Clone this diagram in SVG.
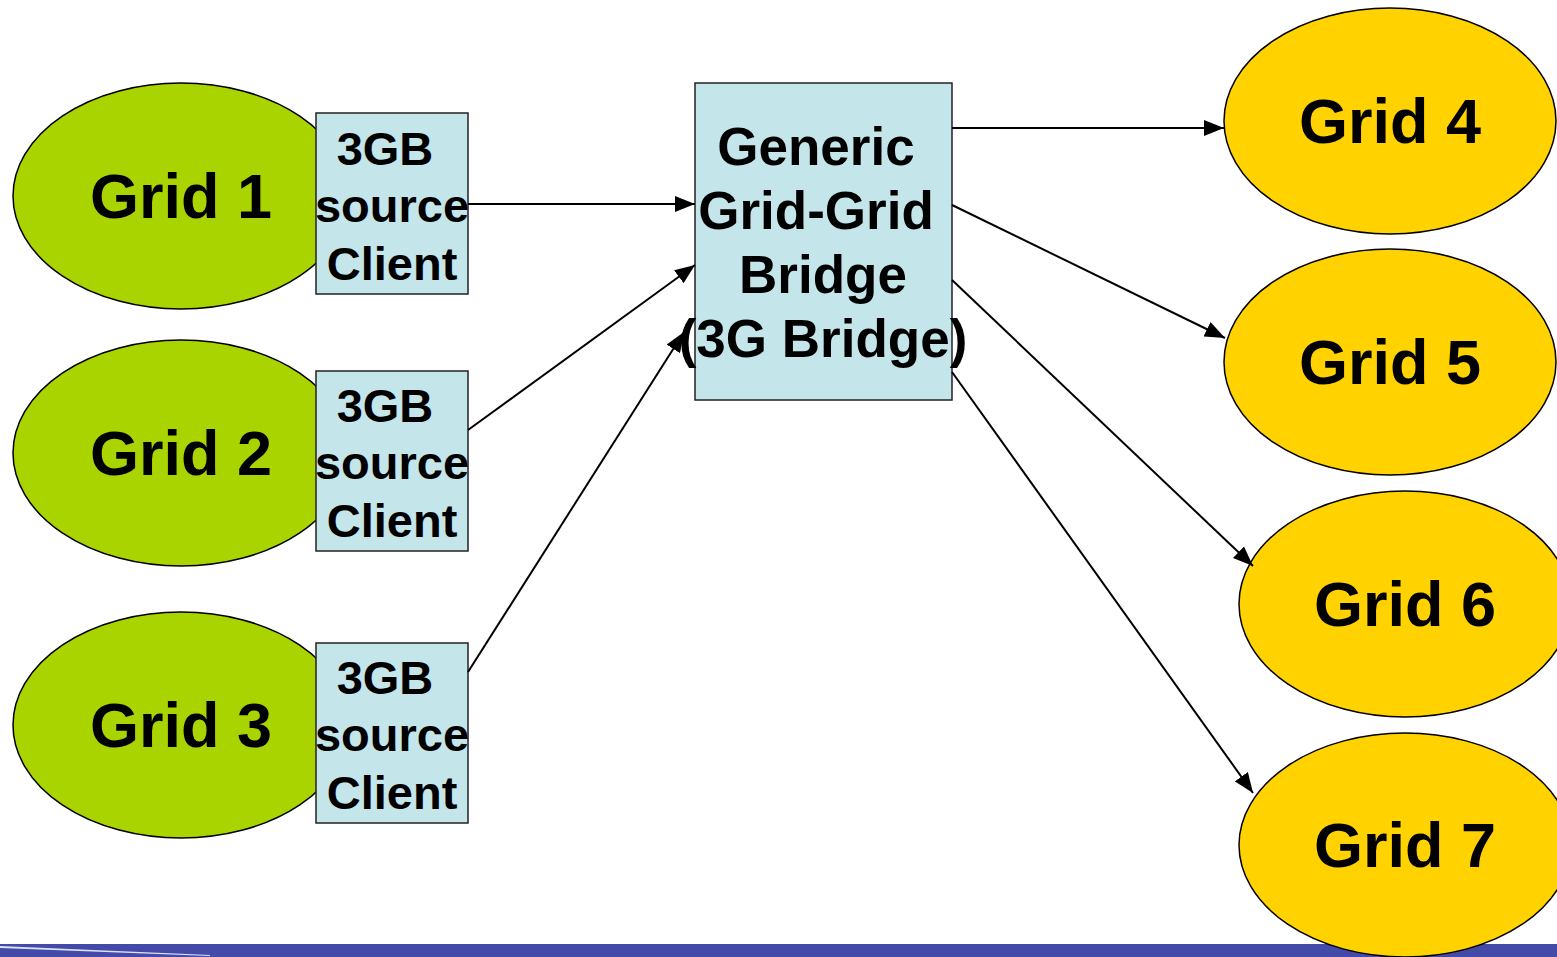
<svg xmlns="http://www.w3.org/2000/svg" width="1557" height="957" viewBox="0 0 1557 957">
<style>
.src{fill:#AAD400;stroke:#000;stroke-width:1.5}
.dst{fill:#FFD200;stroke:#000;stroke-width:1.5}
.box{fill:#C4E5E9;stroke:#222;stroke-width:1.5}
text{font-family:"Liberation Sans",Arial,sans-serif;font-weight:bold;fill:#000;text-anchor:middle}
.g{font-size:63px}
.b{font-size:47px}
.br{font-size:53px}
.conn line{stroke:#000;stroke-width:2;marker-end:url(#ah)}
</style>
<defs>
<marker id="ah" viewBox="0 0 20 16" markerWidth="20" markerHeight="16" refX="20" refY="8" orient="auto" markerUnits="userSpaceOnUse">
<path d="M0,0 L20,8 L0,16 Z" fill="#000"/>
</marker>
</defs>
<rect x="0" y="944" width="1557" height="13" fill="#444AA8"/>
<polygon points="0,946 0,948 210,956 210,955" fill="#DDE0F2"/>
<g id="grid1"><ellipse class="src" cx="181" cy="196" rx="168" ry="113"/><text class="g" x="181" y="218">Grid 1</text></g>
<g id="grid2"><ellipse class="src" cx="181" cy="453" rx="168" ry="113"/><text class="g" x="181" y="475">Grid 2</text></g>
<g id="grid3"><ellipse class="src" cx="181" cy="725" rx="168" ry="113"/><text class="g" x="181" y="747">Grid 3</text></g>
<g id="client1"><rect class="box" x="316" y="113" width="152" height="181"/><text class="b" x="385" y="165">3GB</text><text class="b" x="392" y="222">source</text><text class="b" x="392" y="280">Client</text></g>
<g id="client2"><rect class="box" x="316" y="371" width="152" height="180"/><text class="b" x="385" y="422">3GB</text><text class="b" x="392" y="479">source</text><text class="b" x="392" y="537">Client</text></g>
<g id="client3"><rect class="box" x="316" y="643" width="152" height="180"/><text class="b" x="385" y="694">3GB</text><text class="b" x="392" y="751">source</text><text class="b" x="392" y="809">Client</text></g>
<g id="bridge"><rect class="box" x="695" y="83" width="257" height="317"/><text class="br" x="816" y="165">Generic</text><text class="br" x="816" y="229">Grid-Grid</text><text class="br" x="823" y="293">Bridge</text><text class="br" x="823" y="357">(3G Bridge)</text></g>
<g id="grid4"><ellipse class="dst" cx="1390" cy="121" rx="166" ry="113"/><text class="g" x="1390" y="143">Grid 4</text></g>
<g id="grid5"><ellipse class="dst" cx="1390" cy="362" rx="166" ry="113"/><text class="g" x="1390" y="384">Grid 5</text></g>
<g id="grid6"><ellipse class="dst" cx="1405" cy="604" rx="166" ry="113"/><text class="g" x="1405" y="626">Grid 6</text></g>
<g id="grid7"><ellipse class="dst" cx="1405" cy="845" rx="166" ry="112"/><text class="g" x="1405" y="867">Grid 7</text></g>
<g class="conn">
<line x1="468" y1="204" x2="695" y2="204"/>
<line x1="468" y1="430" x2="695" y2="265"/>
<line x1="468" y1="672" x2="684" y2="332"/>
<line x1="952" y1="128" x2="1224" y2="128"/>
<line x1="952" y1="205" x2="1225" y2="338"/>
<line x1="952" y1="280" x2="1253" y2="566"/>
<line x1="952" y1="372" x2="1253" y2="793"/>
</g>
</svg>
